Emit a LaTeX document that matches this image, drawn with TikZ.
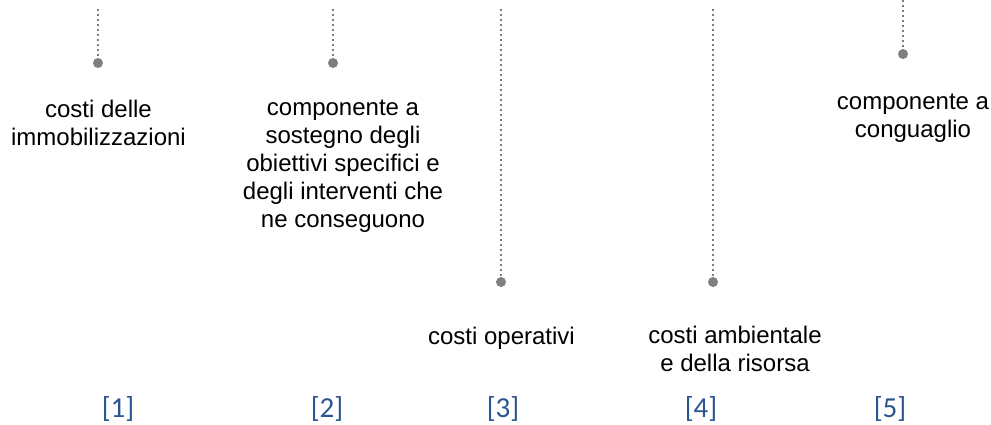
\documentclass[tikz,border=0pt]{standalone}
\usepackage{fontspec}
\setmainfont{Liberation Sans}
\newfontfamily\numfont{Carlito}
\usepackage{xcolor}
\definecolor{stemgray}{HTML}{7F7F7F}
\definecolor{numblue}{HTML}{2B5591}

\begin{document}
\begin{tikzpicture}[
            x=1pt, y=-1pt,
            stem/.style={draw=stemgray, line width=2.4pt, dash pattern=on 2.4pt off 2.6pt},
            dot/.style={circle, fill=stemgray, inner sep=0pt, minimum size=10pt},
            desc/.style={align=center, anchor=north, inner sep=0pt, font=\fontsize{24}{28}\selectfont},
            num/.style={anchor=base, inner sep=0pt, text=numblue, font=\numfont\fontsize{29}{32}\selectfont}
        ]
            \useasboundingbox (0,0) rectangle (991,424);
            % Stems
            \coordinate (t1) at ( 98, 9);
            \coordinate (t2) at (333, 9);
            \coordinate (t3) at (501, 9);
            \coordinate (t4) at (713, 9);
            \coordinate (t5) at (903, 0);
            \node[dot] (d1) at ( 98, 63) {};
            \node[dot] (d2) at (333, 63) {};
            \node[dot] (d3) at (501,282) {};
            \node[dot] (d4) at (713,282) {};
            \node[dot] (d5) at (903, 54) {};
            \draw[stem] (t1) -- (d1);
            \draw[stem] (t2) -- (d2);
            \draw[stem] (t3) -- (d3);
            \draw[stem] (t4) -- (d4);
            \draw[stem] (t5) -- (d5);
            % Descriptions
            \node[desc] (c1) at ( 98.5,100) {costi delle\\immobilizzazioni};
            \node[desc] (c2) at (343,100) {componente a\\sostegno degli\\obiettivi specifici e\\degli interventi che\\ne conseguono};
            \node[desc] (c3) at (501.5,327) {costi operativi};
            \node[desc] (c4) at (735,325.5) {costi ambientale\\e della risorsa};
            \node[desc] (c5) at (913, 94) {componente a\\conguaglio};
            % Numbers
            \node[num] (n1) at (118,417) {[1]};
            \node[num] (n2) at (327,417) {[2]};
            \node[num] (n3) at (503,417) {[3]};
            \node[num] (n4) at (701,417) {[4]};
            \node[num] (n5) at (890,417) {[5]};
        \end{tikzpicture}
\end{document}
